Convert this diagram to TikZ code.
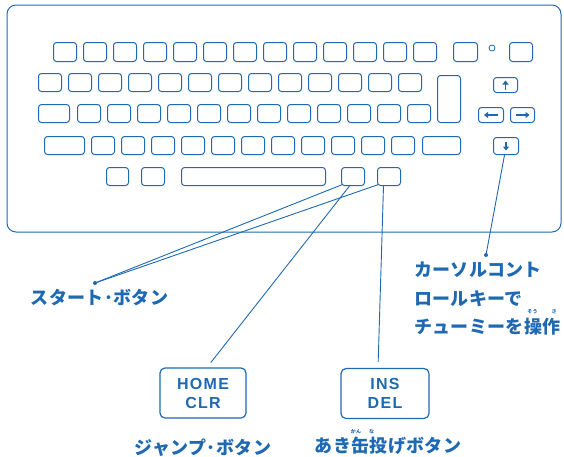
\documentclass[tikz,border=0pt]{standalone}
\usepackage{fontspec}
\newfontfamily\jp{Noto Sans CJK JP}[LetterSpace=2]
\newfontfamily\keyfont{Liberation Sans}[LetterSpace=8]
\usetikzlibrary{arrows.meta, calc}
\definecolor{kbblue}{RGB}{30,105,178}

\begin{document}
\begin{tikzpicture}[x=1pt, y=-1pt, kbblue,
    key/.style={draw, rounded corners=3pt, line width=1pt, anchor=north west,
      inner sep=0pt, minimum height=18pt, minimum width=23pt},
    keyarrow/.style={line width=1.8pt, -{Triangle[length=4pt, width=6pt]}},
    jplabel/.style={font=\jp\bfseries\fontsize{18}{21}\selectfont, inner sep=0pt},
    ruby/.style={font=\jp\bfseries\fontsize{5}{6}\selectfont, inner sep=0pt},
    keybox/.style={draw, rounded corners=5pt, line width=1.2pt, minimum width=86pt,
      minimum height=50pt, align=center, font=\keyfont\bfseries\fontsize{16}{19}\selectfont},
    pointer/.style={line width=0.9pt}
  ]
    \useasboundingbox (0,0) rectangle (564,456);

    % keyboard case
    \draw[line width=1pt, rounded corners=9pt] (7,5) rectangle (561,232);

    % top row
    \foreach \i in {0,...,12}
      \node[key, minimum height=19pt] (ra\i) at (53+30*\i, 42) {};
    \node[key, minimum width=24pt, minimum height=19pt] (ra13) at (453,42) {};
    \node[draw, circle, line width=0.8pt, minimum size=6pt, inner sep=0pt] (lamp) at (492,48) {};
    \node[key, minimum height=19pt] (ra14) at (509,42) {};

    % second row
    \foreach \i in {0,...,12}
      \node[key] (rb\i) at (38+30*\i, 73) {};
    \node[key, minimum height=47pt] (ret) at (437,75) {};

    % third row
    \node[key, minimum width=31pt] (rc0) at (38,104) {};
    \foreach \i in {1,...,12}
      \node[key] (rc\i) at (47+30*\i, 104) {};

    % fourth row
    \node[key, minimum width=40pt] (rd0) at (44,136) {};
    \foreach \i in {1,...,11}
      \node[key] (rd\i) at (61+30*\i, 136) {};
    \node[key, minimum width=38pt] (rd12) at (422,136) {};

    % bottom row
    \node[key, minimum width=22pt] (re0) at (106,167) {};
    \node[key] (re1) at (141,167) {};
    \node[key, minimum width=144pt] (space) at (181,167) {};
    \node[key] (start) at (341,167) {};
    \node[key] (ins) at (377,167) {};

    % cursor keys
    \node[key, minimum width=24pt, minimum height=15pt] (curup) at (493,77) {};
    \node[key, minimum width=25pt, minimum height=15pt] (curleft) at (478,107) {};
    \node[key, minimum width=24pt, minimum height=15pt] (curright) at (510,107) {};
    \node[key, minimum width=25pt, minimum height=17pt] (curdown) at (493,137) {};
    \draw[keyarrow] ($(curup.center)+(0,4.5)$) -- ($(curup.center)+(0,-4.5)$);
    \draw[keyarrow] ($(curleft.center)+(7,0)$) -- ($(curleft.center)+(-7,0)$);
    \draw[keyarrow] ($(curright.center)+(-7,0)$) -- ($(curright.center)+(7,0)$);
    \draw[keyarrow] ($(curdown.center)+(0,-4.5)$) -- ($(curdown.center)+(0,4.5)$);

    % enlarged keys
    \node[keybox] (home) at (203,393) {HOME\\CLR};
    \node[keybox, minimum width=88pt] (del) at (385,393.5) {INS\\DEL};

    % pointers
    \coordinate (startdot) at (95,283);
    \coordinate (curdot) at (486,255);
    \fill (startdot) circle (2pt);
    \fill (curdot) circle (2pt);
    \draw[pointer] ($(start.south west)+(1.5,-1.5)$) -- (startdot);
    \draw[pointer] ($(ins.south west)+(1.5,-1.5)$) -- (startdot);
    \draw[pointer, shorten >=6pt] ($(start.south)+(-3.5,0)$) -- ($(home.north)+(4,0)$);
    \draw[pointer, shorten >=6pt] ($(ins.south)+(-5.5,0)$) -- ($(del.north)+(-7,0)$);
    \draw[pointer] ($(curdown.south)+(-1.5,0)$) -- (curdot);

    % texts
    \node[jplabel] (startlbl) at (99.5,298) {スタート･ボタン};
    \node[jplabel] (jumplbl) at (203,448) {ジャンプ･ボタン};
    \node[jplabel] (canlbl) at (388,446) {あき缶投げボタン};
    \node[ruby] (canruby) at (356,432) {かん};
    \node[ruby] (nageruby) at (371.5,432) {な};
    \node[jplabel, anchor=west] (cur1) at (414,270) {カーソルコント};
    \node[jplabel, anchor=west] (cur2) at (414,299) {ロールキーで};
    \node[jplabel, anchor=west] (cur3) at (414,327) {チューミーを操作};
    \node[ruby] (souruby) at (532.5,312) {そう};
    \node[ruby] (saruby) at (554,312) {さ};
  \end{tikzpicture}
\end{document}
